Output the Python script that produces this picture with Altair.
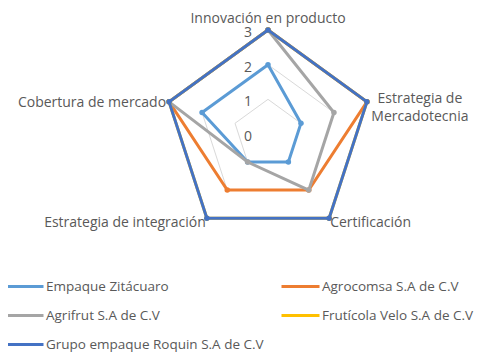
import math
import altair as alt
import pandas as pd

# ---- data ----
axes_names = ["Innovación en producto", "Estrategia de Mercadotecnia", "Certificación",
              "Estrategia de integración", "Cobertura de mercado"]
axis_labels = ["Innovación en producto", "Estrategia de\nMercadotecnia", "Certificación",
               "Estrategia de integración", "Cobertura de mercado"]
series = ["Empaque Zitácuaro", "Agrocomsa S.A de C.V", "Agrifrut S.A de C.V",
          "Frutícola Velo S.A de C.V", "Grupo empaque Roquin S.A de C.V"]
v_empaque = [2, 1, 1, 1, 2]
v_agrocomsa = [3, 3, 2, 2, 3]
v_agrifrut = [3, 2, 2, 1, 3]
v_fruticola = [3, 3, 3, 3, 3]
v_roquin = [3, 3, 3, 3, 3]
values = [v_empaque, v_agrocomsa, v_agrifrut, v_fruticola, v_roquin]
colors = ["#5B9BD5", "#ED7D31", "#A5A5A5", "#FFC000", "#4472C4"]
ring_levels = [1, 2, 3]
tick_levels = [0, 1, 2, 3]

# legend is filled column by column: reorder so it reads row by row
legend_order = [series[0], series[2], series[4], series[1], series[3]]
legend_colors = [colors[0], colors[2], colors[4], colors[1], colors[3]]

# ---- layout ----
W, H = 470, 346
cx, cy = 260, 126
unit = 104 / 3
n = len(axes_names)
FONT = "Open Sans"
FS = 14
TXT_COLOR = "#595959"

xscale = alt.Scale(domain=[-cx / unit, (W - cx) / unit], nice=False, zero=False)
yscale = alt.Scale(domain=[-(H - cy) / unit, cy / unit], nice=False, zero=False)


def polar(ch):
    return ch.transform_calculate(theta=f"datum.idx * 2 * PI / {n}").transform_calculate(
        px="datum.value * sin(datum.theta)",
        py="datum.value * cos(datum.theta)",
    )


X = alt.X("px:Q", scale=xscale, axis=None)
Y = alt.Y("py:Q", scale=yscale, axis=None)

# grid rings
grid_rows = [{"level": lv, "idx": i % n, "value": lv, "ord": i}
             for lv in ring_levels for i in range(n + 1)]
grid = polar(alt.Chart(pd.DataFrame(grid_rows))).mark_line(
    color="#D9D9D9", strokeWidth=1
).encode(x=X, y=Y, detail="level:N", order="ord:Q")

# tick labels
tick_df = pd.DataFrame({"idx": 0, "value": tick_levels, "lab": [str(t) for t in tick_levels]})
ticks = polar(alt.Chart(tick_df)).mark_text(
    align="right", baseline="middle", dx=-16, dy=3, font=FONT, fontSize=FS, color=TXT_COLOR
).encode(x=X, y=Y, text="lab:N")

color_enc = alt.Color(
    "serie:N",
    scale=alt.Scale(domain=legend_order, range=legend_colors),
    legend=alt.Legend(
        title=None, orient="none", legendX=-4, legendY=258, columns=2,
        symbolType="stroke", symbolSize=1444, symbolStrokeWidth=3,
        labelFont=FONT, labelFontSize=13.5, labelColor=TXT_COLOR,
        labelOffset=1, rowPadding=2, columnPadding=11, padding=0,
        labelLimit=400,
    ),
)

layers = [grid, ticks]
for s, vals in zip(series, values):
    rows = [{"serie": s, "idx": i % n, "value": vals[i % n], "ord": i} for i in range(n + 1)]
    df = pd.DataFrame(rows)
    base = polar(alt.Chart(df))
    line = base.mark_line(strokeWidth=3).encode(x=X, y=Y, color=color_enc, order="ord:Q")
    pts = base.transform_filter(f"datum.ord < {n}").mark_point(
        filled=True, size=30, opacity=1, shape="circle"
    ).encode(x=X, y=Y, color=color_enc)
    layers += [line, pts]

# axis labels
lab_df = pd.DataFrame({"idx": list(range(n)), "value": 3, "lab": axis_labels})
lab_base = polar(alt.Chart(lab_df))
txt = dict(font=FONT, fontSize=FS, color=TXT_COLOR, lineBreak="\n", lineHeight=18)
label_specs = [
    (0, dict(align="center", baseline="bottom", dx=0, dy=-4)),
    (1, dict(align="center", baseline="middle", dx=53, dy=-3)),
    (2, dict(align="left", baseline="middle", dx=1, dy=5)),
    (3, dict(align="right", baseline="middle", dx=-1, dy=5)),
    (4, dict(align="right", baseline="middle", dx=-3, dy=1)),
]
for i, spec in label_specs:
    layers.append(
        lab_base.transform_filter(f"datum.idx == {i}").mark_text(**txt, **spec).encode(
            x=X, y=Y, text="lab:N"
        )
    )

chart = alt.layer(*layers).properties(
    width=W, height=H, autosize=alt.AutoSizeParams(type="none"), padding=0
).configure_view(stroke=None)

chart.save("out.html", embed_options={"renderer": "svg", "actions": False})
